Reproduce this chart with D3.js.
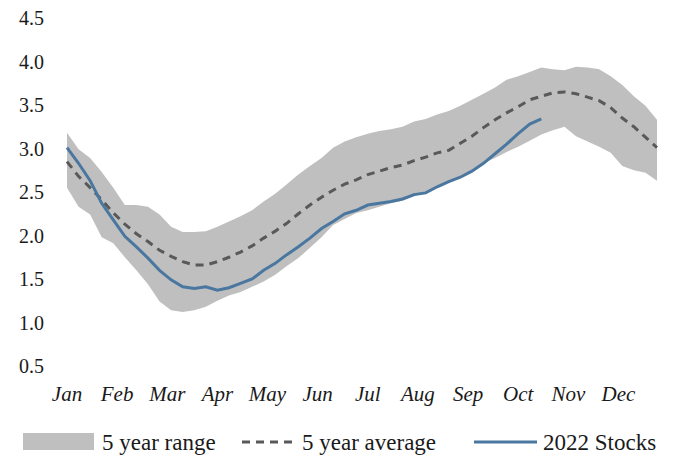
<!DOCTYPE html>
<html>
<head>
<meta charset="utf-8">
<script src="https://cdn.jsdelivr.net/npm/d3@7"></script>
<style>
  body { margin: 0; background: #fff; }
  text { font-family: 'Liberation Serif', serif; fill: #1a1a1a; }
</style>
</head>
<body>
<div id="chart"></div>
<script>
// weekly values, Jan..Dec
var months = ['Jan', 'Feb', 'Mar', 'Apr', 'May', 'Jun', 'Jul', 'Aug', 'Sep', 'Oct', 'Nov', 'Dec']
var yTicks = [0.5, 1.0, 1.5, 2.0, 2.5, 3.0, 3.5, 4.0, 4.5]

var rangeHigh = [3.18, 2.99, 2.89, 2.73, 2.55, 2.35, 2.35, 2.33, 2.24, 2.10, 2.04, 2.04, 2.05,
  2.10, 2.16, 2.22, 2.29, 2.39, 2.48, 2.59, 2.70, 2.80, 2.89, 3.01, 3.08, 3.13, 3.17, 3.20,
  3.22, 3.25, 3.31, 3.34, 3.39, 3.43, 3.49, 3.56, 3.63, 3.70, 3.79, 3.83, 3.88, 3.93, 3.91,
  3.90, 3.94, 3.93, 3.91, 3.83, 3.73, 3.60, 3.49, 3.33]
var rangeLow = [2.55, 2.33, 2.24, 1.98, 1.91, 1.75, 1.60, 1.44, 1.24, 1.14, 1.12, 1.14, 1.18,
  1.25, 1.31, 1.35, 1.41, 1.47, 1.55, 1.65, 1.74, 1.86, 1.98, 2.12, 2.19, 2.26, 2.29, 2.33,
  2.37, 2.40, 2.45, 2.50, 2.56, 2.62, 2.67, 2.75, 2.83, 2.89, 2.96, 3.02, 3.09, 3.16, 3.21,
  3.25, 3.14, 3.08, 3.02, 2.95, 2.80, 2.75, 2.72, 2.63]
var avg5 = [2.85, 2.68, 2.55, 2.41, 2.26, 2.13, 2.02, 1.93, 1.83, 1.76, 1.70, 1.66, 1.66,
  1.70, 1.75, 1.81, 1.88, 1.97, 2.05, 2.14, 2.25, 2.35, 2.44, 2.52, 2.59, 2.64, 2.70, 2.74,
  2.78, 2.81, 2.86, 2.90, 2.95, 2.98, 3.06, 3.14, 3.24, 3.33, 3.41, 3.48, 3.56, 3.60, 3.64,
  3.65, 3.63, 3.59, 3.55, 3.47, 3.35, 3.25, 3.13, 3.01]
var stocks2022 = [3.01, 2.83, 2.63, 2.37, 2.18, 1.99, 1.87, 1.74, 1.60, 1.49, 1.41, 1.39, 1.41,
  1.37, 1.40, 1.45, 1.50, 1.60, 1.68, 1.78, 1.87, 1.97, 2.08, 2.16, 2.25, 2.29, 2.35, 2.37,
  2.39, 2.42, 2.47, 2.49, 2.56, 2.62, 2.67, 2.74, 2.83, 2.94, 3.05, 3.17, 3.28, 3.34]

var width = 681
var height = 460

var svg = d3.select('#chart')
  .append('svg')
  .attr('width', width)
  .attr('height', height)

var x = d3.scaleLinear().domain([0, 51]).range([67, 657])
var y = d3.scaleLinear().domain([0.5, 4.5]).range([366, 18])

// y labels
svg.append('g')
  .selectAll('text')
  .data(yTicks)
  .enter()
  .append('text')
  .attr('x', 44)
  .attr('y', (d) => { return y(d) })
  .attr('dy', '0.35em')
  .attr('text-anchor', 'end')
  .style('font-size', '20px')
  .text((d) => { return d.toFixed(1) })

// month labels
svg.append('g')
  .selectAll('text')
  .data(months)
  .enter()
  .append('text')
  .attr('x', (d, i) => { return x(i * 52 / 12) })
  .attr('y', 401)
  .attr('text-anchor', 'middle')
  .style('font-size', '21px')
  .style('font-style', 'italic')
  .text((d) => { return d })

var area = d3.area()
  .x((d, i) => { return x(i) })
  .y0((d, i) => { return y(rangeLow[i]) })
  .y1((d) => { return y(d) })

svg.append('path')
  .datum(rangeHigh)
  .attr('d', area)
  .attr('fill', '#bfbfbf')

var line = d3.line()
  .x((d, i) => { return x(i) })
  .y((d) => { return y(d) })

svg.append('path')
  .datum(avg5)
  .attr('d', line)
  .attr('fill', 'none')
  .attr('stroke', '#595959')
  .attr('stroke-width', 3)
  .attr('stroke-dasharray', '8,6')

svg.append('path')
  .datum(stocks2022)
  .attr('d', line)
  .attr('fill', 'none')
  .attr('stroke', '#4a77a0')
  .attr('stroke-width', 3)

// legend
var lg = svg.append('g')
lg.append('rect')
  .attr('x', 23).attr('y', 433)
  .attr('width', 71).attr('height', 17)
  .attr('fill', '#bfbfbf')
lg.append('text')
  .attr('x', 102).attr('y', 450)
  .style('font-size', '23px')
  .text('5 year range')
lg.append('line')
  .attr('x1', 242).attr('x2', 293)
  .attr('y1', 442).attr('y2', 442)
  .attr('stroke', '#595959')
  .attr('stroke-width', 3)
  .attr('stroke-dasharray', '8,6')
lg.append('text')
  .attr('x', 302).attr('y', 450)
  .style('font-size', '23px')
  .text('5 year average')
lg.append('line')
  .attr('x1', 474).attr('x2', 537)
  .attr('y1', 442).attr('y2', 442)
  .attr('stroke', '#4a77a0')
  .attr('stroke-width', 3)
lg.append('text')
  .attr('x', 543).attr('y', 450)
  .style('font-size', '23px')
  .text('2022 Stocks')
</script>
</body>
</html>
